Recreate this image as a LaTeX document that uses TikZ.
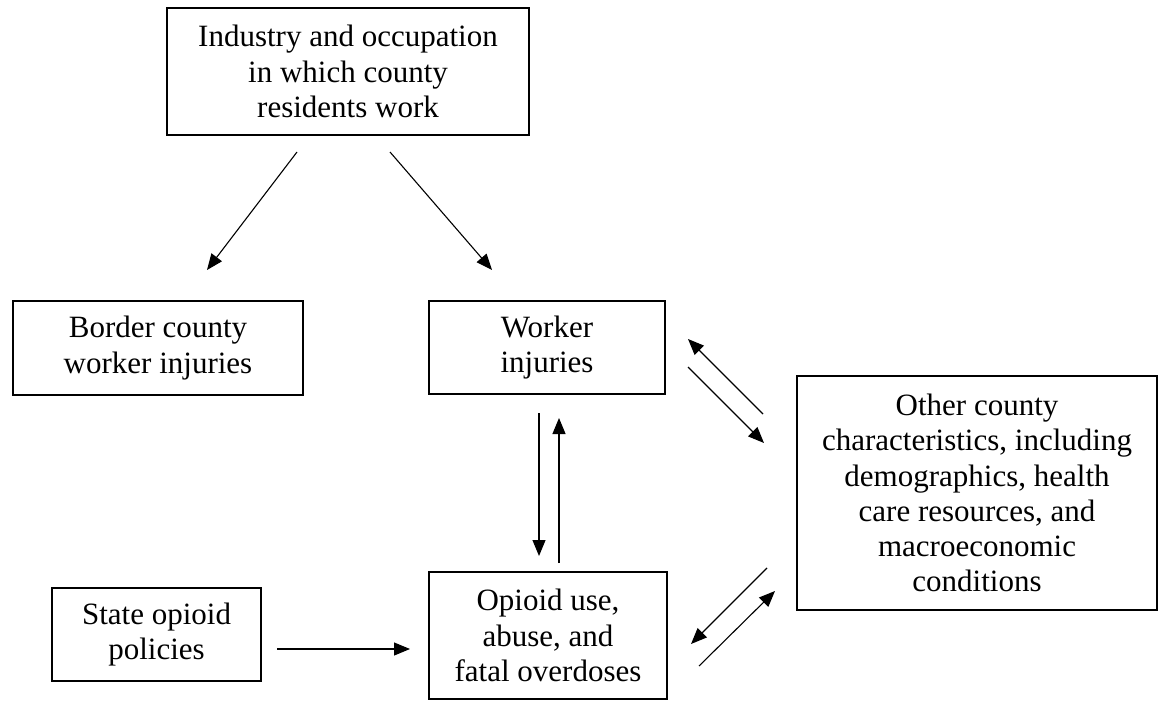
\documentclass[tikz,border=0pt]{standalone}
\usepackage{fontspec}
\setmainfont{Liberation Serif}
\usetikzlibrary{arrows.meta}
\begin{document}
\begin{tikzpicture}[x=0.5pt,y=-0.5pt,
  box/.style={draw=black, line width=1.1pt, align=center, inner sep=0pt,
    font=\fontsize{15.5pt}{17.6pt}\selectfont},
  arr/.style={line width=0.55pt, -{Triangle[length=8pt,width=6.5pt]}}]
\useasboundingbox (0,0) rectangle (1159,700);
\fill[white] (0,0) rectangle (1159,700);
% boxes
\node[box, minimum width=181pt, minimum height=63.5pt] (ind) at (348,71.5)
  {Industry and occupation\\in which county\\residents work};
\node[box, minimum width=145pt, minimum height=47pt] (bord) at (158,348)
  {Border county\\worker injuries};
\node[box, minimum width=118pt, minimum height=46.5pt] (work) at (547,347.5)
  {Worker\\injuries};
\node[box, minimum width=104.5pt, minimum height=46.5pt] (state) at (156.5,634.5)
  {State opioid\\policies};
\node[box, minimum width=119pt, minimum height=63.5pt] (opi) at (548,635.5)
  {Opioid use,\\abuse, and\\fatal overdoses};
\node[box, minimum width=180pt, minimum height=117pt] (oth) at (977,493)
  {Other county\\characteristics, including\\demographics, health\\care resources, and\\macroeconomic\\conditions};
% connector end points
\coordinate (a1s) at (297,152); \coordinate (a1e) at (207,270);
\coordinate (a2s) at (390,152); \coordinate (a2e) at (492,270);
\coordinate (a3s) at (763,414); \coordinate (a3e) at (688,339);
\coordinate (a4s) at (688,367); \coordinate (a4e) at (764,443);
\coordinate (a5s) at (539,413); \coordinate (a5e) at (539,556);
\coordinate (a6s) at (559,563); \coordinate (a6e) at (559,418);
\coordinate (a7s) at (767,568); \coordinate (a7e) at (691,644);
\coordinate (a8s) at (699,666); \coordinate (a8e) at (775,591);
\coordinate (a9s) at (277,649); \coordinate (a9e) at (410,649);
% connectors
\draw[arr] (a1s) -- (a1e);
\draw[arr] (a2s) -- (a2e);
\draw[arr] (a3s) -- (a3e);
\draw[arr] (a4s) -- (a4e);
\draw[arr] (a5s) -- (a5e);
\draw[arr] (a6s) -- (a6e);
\draw[arr] (a7s) -- (a7e);
\draw[arr] (a8s) -- (a8e);
\draw[arr] (a9s) -- (a9e);
\end{tikzpicture}
\end{document}
